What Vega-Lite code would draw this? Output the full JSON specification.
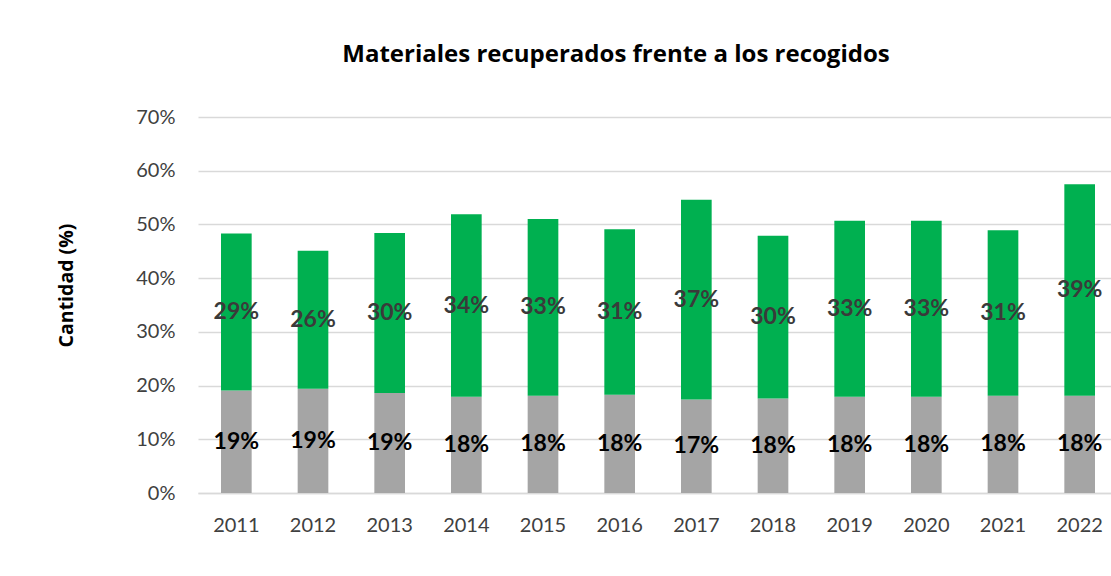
{
  "$schema": "https://vega.github.io/schema/vega-lite/v6.json",
  "autosize": {"type": "none"},
  "padding": {"left": 198, "top": 117, "right": 0, "bottom": 83},
  "width": 920,
  "height": 376,
  "background": "white",
  "config": {
    "view": {"stroke": null},
    "font": "Lato",
    "axis": {"labelFont": "Lato", "titleFont": "Open Sans"}
  },
  "title": {
    "text": "Materiales recuperados frente a los recogidos",
    "font": "Open Sans",
    "fontSize": 24,
    "fontWeight": "bold",
    "color": "#000000",
    "anchor": "middle",
    "frame": "group",
    "baseline": "alphabetic",
    "dx": -42,
    "offset": 21
  },
  "data": {
    "values": [
      {"year": "2011", "tipo": "Recogido", "valor": 0.191},
      {"year": "2011", "tipo": "Recuperado", "valor": 0.292},
      {"year": "2012", "tipo": "Recogido", "valor": 0.194},
      {"year": "2012", "tipo": "Recuperado", "valor": 0.257},
      {"year": "2013", "tipo": "Recogido", "valor": 0.186},
      {"year": "2013", "tipo": "Recuperado", "valor": 0.298},
      {"year": "2014", "tipo": "Recogido", "valor": 0.179},
      {"year": "2014", "tipo": "Recuperado", "valor": 0.340},
      {"year": "2015", "tipo": "Recogido", "valor": 0.181},
      {"year": "2015", "tipo": "Recuperado", "valor": 0.329},
      {"year": "2016", "tipo": "Recogido", "valor": 0.183},
      {"year": "2016", "tipo": "Recuperado", "valor": 0.308},
      {"year": "2017", "tipo": "Recogido", "valor": 0.174},
      {"year": "2017", "tipo": "Recuperado", "valor": 0.372},
      {"year": "2018", "tipo": "Recogido", "valor": 0.176},
      {"year": "2018", "tipo": "Recuperado", "valor": 0.303},
      {"year": "2019", "tipo": "Recogido", "valor": 0.179},
      {"year": "2019", "tipo": "Recuperado", "valor": 0.328},
      {"year": "2020", "tipo": "Recogido", "valor": 0.179},
      {"year": "2020", "tipo": "Recuperado", "valor": 0.328},
      {"year": "2021", "tipo": "Recogido", "valor": 0.181},
      {"year": "2021", "tipo": "Recuperado", "valor": 0.308},
      {"year": "2022", "tipo": "Recogido", "valor": 0.181},
      {"year": "2022", "tipo": "Recuperado", "valor": 0.394}
    ]
  },
  "encoding": {
    "x": {
      "field": "year",
      "type": "ordinal",
      "scale": {"paddingInner": 0.6, "paddingOuter": 0.3},
      "axis": {
        "title": null,
        "labelAngle": 0,
        "labelFontSize": 20,
        "labelColor": "#404040",
        "labelPadding": 22,
        "ticks": false,
        "domain": true,
        "domainColor": "#d9d9d9",
        "domainWidth": 1.5
      }
    }
  },
  "layer": [
    {
      "mark": {"type": "bar"},
      "encoding": {
        "y": {
          "field": "valor",
          "type": "quantitative",
          "stack": "zero",
          "scale": {"domain": [0, 0.7], "nice": false},
          "axis": {
            "values": [0, 0.1, 0.2, 0.3, 0.4, 0.5, 0.6, 0.7],
            "format": ".0%",
            "labelFontSize": 20,
            "labelColor": "#404040",
            "labelPadding": 23,
            "ticks": false,
            "domain": false,
            "grid": true,
            "gridColor": "#d9d9d9",
            "gridWidth": 1.5,
            "title": "Cantidad (%)",
            "titleFontSize": 19.5,
            "titleFontWeight": "bold",
            "titleColor": "#000000",
            "titleBaseline": "alphabetic",
            "titleX": -126,
            "titleY": 168
          }
        },
        "color": {
          "field": "tipo",
          "type": "nominal",
          "scale": {"domain": ["Recogido", "Recuperado"], "range": ["#a5a5a5", "#00b050"]},
          "legend": null
        },
        "order": {"field": "tipo", "sort": "ascending"}
      }
    },
    {
      "mark": {"type": "text", "fontSize": 23, "fontWeight": "bold", "baseline": "middle", "align": "center"},
      "encoding": {
        "y": {"field": "valor", "type": "quantitative", "stack": "zero", "bandPosition": 0.5},
        "text": {"field": "valor", "type": "quantitative", "format": ".0%"},
        "color": {
          "field": "tipo",
          "type": "nominal",
          "scale": {"domain": ["Recogido", "Recuperado"], "range": ["#000000", "#3a3a3a"]},
          "legend": null
        },
        "order": {"field": "tipo", "sort": "ascending"}
      }
    }
  ],
  "resolve": {"scale": {"color": "independent"}}
}
